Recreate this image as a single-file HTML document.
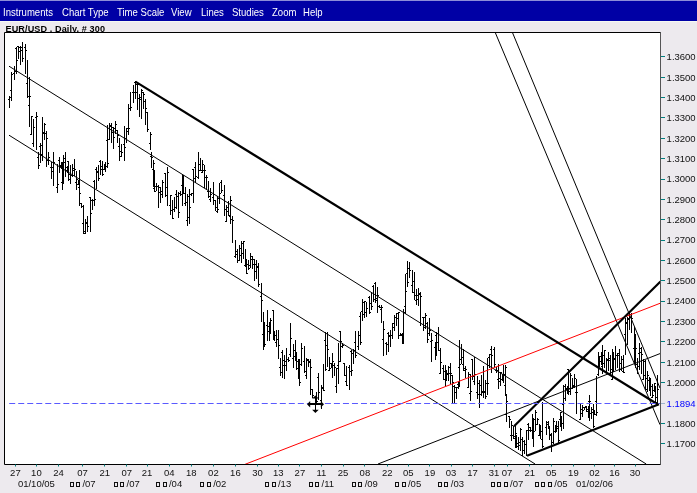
<!DOCTYPE html>
<html><head><meta charset="utf-8"><style>
html,body{margin:0;padding:0;}
body{width:697px;height:493px;overflow:hidden;background:#edeaee;position:relative;font-family:"Liberation Sans",sans-serif;}
#menu{position:absolute;left:0;top:0;width:697px;height:21px;background:#0000a5;border-top:1px solid #8d8dd8;box-sizing:border-box;}
#menu span{position:absolute;top:5.8px;color:#fff;font-size:10.8px;line-height:11px;white-space:nowrap;transform:scaleX(0.885);transform-origin:0 0;}
#title{position:absolute;left:5.5px;top:24.4px;font-size:9.1px;line-height:11px;color:#000;white-space:nowrap;font-weight:bold;letter-spacing:0.1px}
#hl{position:absolute;left:0;top:21px;width:697px;height:1px;background:#f5f9f3;}
#chart{position:absolute;left:4px;top:32px;width:656px;height:432px;background:#fff;}
svg{position:absolute;left:0;top:0;}
.yl{position:absolute;left:666.6px;font-size:9.5px;line-height:12px;white-space:nowrap;}
.xl{position:absolute;top:466.5px;width:30px;text-align:center;font-size:9.5px;line-height:12px;color:#111;}
.ml{position:absolute;top:478px;width:60px;text-align:center;font-size:9.5px;line-height:12px;color:#111;white-space:nowrap;}
.ml i{display:inline-block;width:2px;height:3px;border:1px solid #111;margin-right:2.4px;vertical-align:0px;}
</style></head><body>
<div id="menu">
<span style="left:3.3px">Instruments</span>
<span style="left:61.8px">Chart Type</span>
<span style="left:116.6px">Time Scale</span>
<span style="left:170.9px">View</span>
<span style="left:200.5px">Lines</span>
<span style="left:231.7px">Studies</span>
<span style="left:271.9px">Zoom</span>
<span style="left:303px">Help</span>
</div>
<div id="hl"></div>
<div id="title">EUR/USD , Daily, # 300</div>
<div id="chart"></div>
<svg width="697" height="493" viewBox="0 0 697 493">
<g>
<path d="M9.5 96V108M8 99.5H9M10 97.5H11M11.5 72V101M10 90.5H11M12 74.5H13M14.5 66V80M13 73.5H14M15 71.5H16M16.5 47V74M15 48.5H16M17 60.5H18M18.5 46V59M17 46.5H18M19 51.5H20M20.5 46V65M19 47.5H20M21 47.5H22M22.5 42V62M21 50.5H22M23 58.5H24M25.5 44V74M24 47.5H25M26 50.5H27M27.5 60V98M26 83.5H27M28 96.5H29M29.5 77V127M28 105.5H29M30 96.5H31M31.5 116V135M30 134.5H31M32 116.5H33M33.5 119V147M32 143.5H33M34 127.5H35M36.5 112V150M35 117.5H36M37 116.5H38M38.5 152V169M37 157.5H38M39 165.5H40M40.5 143V163M39 146.5H40M41 154.5H42M42.5 117V161M41 145.5H42M43 133.5H44M44.5 123V140M43 132.5H44M45 124.5H46M46.5 131V167M45 133.5H46M47 138.5H48M48.5 152V165M47 160.5H48M49 157.5H50M51.5 162V179M50 167.5H51M52 171.5H53M53.5 152V186M52 167.5H53M54 162.5H55M57.5 164V193M56 187.5H57M58 184.5H59M59.5 157V173M58 160.5H59M60 166.5H61M61.5 162V169M60 165.5H61M62 168.5H63M62.5 162V190M61 182.5H62M63 170.5H64M63.5 155V184M62 183.5H63M64 158.5H65M65.5 152V177M64 162.5H65M66 170.5H67M67.5 166V173M66 167.5H67M68 169.5H69M68.5 161V181M67 161.5H68M69 174.5H70M70.5 165V184M69 179.5H70M71 175.5H72M72.5 164V177M71 175.5H72M73 168.5H74M74.5 159V176M73 170.5H74M75 169.5H76M76.5 171V190M75 182.5H76M77 179.5H78M78.5 180V185M77 184.5H78M79 184.5H80M79.5 170V206M78 187.5H79M80 193.5H81M81.5 203V208M80 203.5H81M82 206.5H83M83.5 205V234M82 223.5H83M84 233.5H85M85.5 219V234M84 231.5H85M86 223.5H87M87.5 216V232M86 222.5H87M88 226.5H89M90.5 197V232M89 197.5H90M91 213.5H92M92.5 199V210M91 200.5H92M93 200.5H94M94.5 180V206M93 181.5H94M95 199.5H96M96.5 167V189M95 169.5H96M97 172.5H98M98.5 165V181M97 171.5H98M99 178.5H100M100.5 160V175M99 161.5H100M101 166.5H102M102.5 161V176M101 169.5H102M103 174.5H104M104.5 165V170M103 169.5H104M105 169.5H106M105.5 162V172M104 164.5H105M106 166.5H107M107.5 125V168M106 140.5H107M108 163.5H109M109.5 123V140M108 139.5H109M110 125.5H111M111.5 123V143M110 126.5H111M112 127.5H113M113.5 127V149M112 132.5H113M114 137.5H115M115.5 121V134M114 128.5H115M116 124.5H117M117.5 130V143M116 130.5H117M118 135.5H119M119.5 138V161M118 146.5H119M120 151.5H121M121.5 144V157M120 156.5H121M122 152.5H123M124.5 126V161M123 144.5H124M125 147.5H126M126.5 128V143M125 138.5H126M127 128.5H128M128.5 104V135M127 131.5H128M129 128.5H130M130.5 92V111M129 108.5H130M131 107.5H132M133.5 85V103M132 92.5H133M134 92.5H135M135.5 81V99M134 82.5H135M136 92.5H137M137.5 83V110M136 84.5H137M138 84.5H139M139.5 94V117M138 98.5H139M140 97.5H141M141.5 89V119M140 99.5H141M142 90.5H143M143.5 92V109M142 92.5H143M144 94.5H145M145.5 99V125M144 101.5H145M146 108.5H147M147.5 112V132M146 112.5H147M148 129.5H149M150.5 132V150M149 143.5H150M151 134.5H152M151.5 152V168M150 156.5H151M152 157.5H153M153.5 160V187M152 169.5H153M154 163.5H155M154.5 170V192M153 188.5H154M155 191.5H156M156.5 183V191M155 186.5H156M157 186.5H158M158.5 185V208M157 186.5H158M159 187.5H160M160.5 187V203M159 192.5H160M161 191.5H162M162.5 180V198M161 194.5H162M163 182.5H164M165.5 173V197M164 173.5H165M166 195.5H167M167.5 167V206M166 187.5H167M168 172.5H169M170.5 195V215M169 205.5H170M171 195.5H172M172.5 200V219M171 210.5H172M173 218.5H174M174.5 197V212M173 209.5H174M175 207.5H176M176.5 190V209M175 194.5H176M177 196.5H178M178.5 192V218M177 196.5H178M179 212.5H180M180.5 191V196M179 193.5H180M181 194.5H182M182.5 175V206M181 185.5H182M183 181.5H184M183.5 175V194M182 190.5H183M184 193.5H185M185.5 187V206M184 203.5H185M186 202.5H187M187.5 194V226M186 220.5H187M188 217.5H189M189.5 189V224M188 196.5H189M190 207.5H191M191.5 193V196M190 194.5H191M192 193.5H193M193.5 169V203M192 169.5H193M194 178.5H195M195.5 162V183M194 167.5H195M196 176.5H197M198.5 152V179M197 177.5H198M199 164.5H200M200.5 158V171M199 170.5H200M201 170.5H202M202.5 160V173M201 172.5H202M203 164.5H204M204.5 165V188M203 170.5H204M205 170.5H206M206.5 175V189M205 177.5H206M207 177.5H208M208.5 181V198M207 191.5H208M209 196.5H210M210.5 188V202M209 199.5H210M211 194.5H212M213.5 182V205M212 197.5H213M214 200.5H215M215.5 200V211M214 200.5H215M216 207.5H217M217.5 196V213M216 211.5H217M218 209.5H219M219.5 183V204M218 198.5H219M220 193.5H221M221.5 180V193M220 182.5H221M222 190.5H223M224.5 185V216M223 195.5H224M225 209.5H226M226.5 205V222M225 221.5H226M227 211.5H228M228.5 201V216M227 207.5H228M229 215.5H230M230.5 196V224M229 216.5H230M231 200.5H232M232.5 216V243M231 219.5H232M233 220.5H234M235.5 240V258M234 256.5H235M236 254.5H237M237.5 249V263M236 251.5H237M238 260.5H239M239.5 245V261M238 260.5H239M240 255.5H241M241.5 241V263M240 248.5H241M242 253.5H243M243.5 241V259M242 243.5H243M244 241.5H245M245.5 249V266M244 265.5H245M246 260.5H247M246.5 259V274M245 266.5H246M247 273.5H248M248.5 260V270M247 264.5H248M249 268.5H250M250.5 253V268M249 265.5H250M251 256.5H252M252.5 256V269M251 259.5H252M253 259.5H254M254.5 259V281M253 264.5H254M255 271.5H256M256.5 260V279M255 264.5H256M257 267.5H258M258.5 263V287M257 266.5H258M259 284.5H260M261.5 283V322M260 296.5H261M262 300.5H263M263.5 312V350M262 334.5H263M264 346.5H265M264.5 322V346M263 332.5H264M265 344.5H266M267.5 310V341M266 325.5H267M268 326.5H269M269.5 322V341M268 331.5H269M270 322.5H271M270.5 318V334M269 325.5H270M271 320.5H272M273.5 310V340M272 310.5H273M274 333.5H275M274.5 331V341M273 332.5H274M275 335.5H276M276.5 330V347M275 342.5H276M277 339.5H278M278.5 330V359M277 339.5H278M279 345.5H280M280.5 358V376M279 367.5H280M281 372.5H282M282.5 350V378M281 352.5H282M283 365.5H284M284.5 355V379M283 360.5H284M285 361.5H286M286.5 348V371M285 365.5H286M287 359.5H288M288.5 357V362M287 359.5H288M289 360.5H290M290.5 323V357M289 354.5H290M291 338.5H292M293.5 344V368M292 358.5H293M294 356.5H295M295.5 340V361M294 350.5H295M296 354.5H297M296.5 352V370M295 360.5H296M297 361.5H298M298.5 359V379M297 368.5H298M299 377.5H300M299.5 359V386M298 377.5H299M300 382.5H301M301.5 343V366M300 364.5H301M302 348.5H303M304.5 346V373M303 361.5H304M305 371.5H306M306.5 358V379M305 375.5H306M307 360.5H308M308.5 359V367M307 359.5H308M309 362.5H310M310.5 359V395M309 361.5H310M311 367.5H312M312.5 389V398M311 389.5H312M313 395.5H314M316.5 392V403M315 400.5H316M317 401.5H318M318.5 373V400M317 377.5H318M319 392.5H320M321.5 385V409M320 400.5H321M322 388.5H323M323.5 364V391M322 387.5H323M324 390.5H325M325.5 332V371M324 340.5H325M326 369.5H327M327.5 332V367M326 345.5H327M328 349.5H329M329.5 357V371M328 370.5H329M330 368.5H331M331.5 363V368M330 363.5H331M332 365.5H333M332.5 353V378M331 365.5H332M333 361.5H334M334.5 363V376M333 365.5H334M335 367.5H336M336.5 368V393M335 386.5H336M337 368.5H338M338.5 343V384M337 365.5H338M339 361.5H340M340.5 331V362M339 331.5H340M341 341.5H342M342.5 343V348M341 346.5H342M343 345.5H344M344.5 363V376M343 363.5H344M345 375.5H346M346.5 366V386M345 381.5H346M347 385.5H348M349.5 365V390M348 367.5H349M350 371.5H351M351.5 350V376M350 351.5H351M352 370.5H353M353.5 349V364M352 353.5H353M354 350.5H355M355.5 331V358M354 342.5H355M356 355.5H357M358.5 331V350M357 346.5H358M359 335.5H360M360.5 312V345M359 316.5H360M361 342.5H362M362.5 299V321M361 311.5H362M363 314.5H364M364.5 301V318M363 302.5H364M365 301.5H366M366.5 302V317M365 312.5H366M367 308.5H368M369.5 296V314M368 297.5H369M370 312.5H371M371.5 293V310M370 303.5H371M372 306.5H373M373.5 285V302M372 286.5H373M374 299.5H375M375.5 282V303M374 283.5H375M376 300.5H377M377.5 287V313M376 298.5H377M378 295.5H379M379.5 305V308M378 306.5H379M380 307.5H381M381.5 305V323M380 309.5H381M382 307.5H383M383.5 321V356M382 339.5H383M384 329.5H385M386.5 342V355M385 343.5H386M387 344.5H388M388.5 332V352M387 333.5H388M389 336.5H390M390.5 330V347M389 335.5H390M391 335.5H392M392.5 323V339M391 335.5H392M393 327.5H394M394.5 315V331M393 323.5H394M395 317.5H396M396.5 313V326M395 317.5H396M397 313.5H398M398.5 312V339M397 318.5H398M399 312.5H400M400.5 333V336M399 335.5H400M401 334.5H402M402.5 333V344M401 335.5H402M403 338.5H404M403.5 309V344M402 341.5H403M404 312.5H405M405.5 274V314M404 306.5H405M406 291.5H407M407.5 261V287M406 273.5H407M408 282.5H409M409.5 262V278M408 268.5H409M410 270.5H411M412.5 270V293M411 285.5H412M413 292.5H414M414.5 272V300M413 281.5H414M415 295.5H416M416.5 289V305M415 300.5H416M417 299.5H418M418.5 288V306M417 295.5H418M419 294.5H420M420.5 292V326M419 293.5H420M421 296.5H422M423.5 317V331M422 317.5H423M424 327.5H425M425.5 313V329M424 317.5H425M426 315.5H427M427.5 322V343M426 323.5H427M428 339.5H429M429.5 318V336M428 333.5H429M430 330.5H431M431.5 333V362M430 341.5H431M432 340.5H433M435.5 342V360M434 347.5H435M436 350.5H437M436.5 332V356M435 335.5H436M437 342.5H438M438.5 327V351M437 333.5H438M439 350.5H440M440.5 348V374M439 373.5H440M441 362.5H442M443.5 365V380M442 368.5H443M444 379.5H445M445.5 365V386M444 371.5H445M446 372.5H447M446.5 370V381M445 370.5H446M447 374.5H448M448.5 366V381M447 373.5H448M449 373.5H450M450.5 363V384M449 367.5H450M451 373.5H452M452.5 375V403M451 375.5H452M453 382.5H454M454.5 385V403M453 386.5H454M455 392.5H456M456.5 387V399M455 387.5H456M457 387.5H458M458.5 382V389M457 384.5H458M459 383.5H460M459.5 340V387M458 367.5H459M460 364.5H461M461.5 344V364M460 359.5H461M462 357.5H463M463.5 349V371M462 364.5H463M464 368.5H465M465.5 366V378M464 370.5H465M466 369.5H467M468.5 372V388M467 387.5H468M469 374.5H470M470.5 374V401M469 393.5H470M471 391.5H472M472.5 359V380M471 359.5H472M473 376.5H474M474.5 357V385M473 381.5H474M475 374.5H476M477.5 376V399M476 392.5H477M478 394.5H479M479.5 380V408M478 383.5H479M480 394.5H481M481.5 375V396M480 385.5H481M482 392.5H483M483.5 366V398M482 391.5H483M484 392.5H485M485.5 380V399M484 391.5H485M486 396.5H487M487.5 358V395M486 383.5H487M488 383.5H489M489.5 354V368M488 357.5H489M490 354.5H491M491.5 346V373M490 349.5H491M492 355.5H493M494.5 347V368M493 349.5H494M495 364.5H496M496.5 367V373M495 370.5H496M497 370.5H498M498.5 364V389M497 379.5H498M499 381.5H500M500.5 372V386M499 378.5H500M501 372.5H502M502.5 374V381M501 379.5H502M503 379.5H504M503.5 365V383M502 374.5H503M504 374.5H505M505.5 365V396M504 385.5H505M506 367.5H507M506.5 394V422M505 414.5H506M507 401.5H508M509.5 416V428M508 416.5H509M510 419.5H511M511.5 421V441M510 435.5H511M512 425.5H513M513.5 426V439M512 435.5H513M514 438.5H515M515.5 425V448M514 436.5H515M516 433.5H517M516.5 435V448M515 441.5H516M517 443.5H518M518.5 437V450M517 446.5H518M519 445.5H520M520.5 428V451M519 442.5H520M521 429.5H522M522.5 437V456M521 439.5H522M523 441.5H524M524.5 440V454M523 450.5H524M525 444.5H526M526.5 430V456M525 444.5H526M527 430.5H528M528.5 423V440M527 424.5H528M529 427.5H530M530.5 427V432M529 430.5H530M531 430.5H532M532.5 414V439M531 430.5H532M533 421.5H534M533.5 418V447M532 432.5H533M534 431.5H535M535.5 410V431M534 419.5H535M536 412.5H537M537.5 418V425M536 424.5H537M538 419.5H539M539.5 424V436M538 435.5H539M540 435.5H541M540.5 425V439M539 425.5H540M541 431.5H542M542.5 402V448M541 439.5H542M543 446.5H544M546.5 421V435M545 427.5H546M547 424.5H548M548.5 421V428M547 422.5H548M549 427.5H550M549.5 426V440M548 428.5H549M550 434.5H551M551.5 433V452M550 435.5H551M552 442.5H553M553.5 418V444M552 442.5H553M554 421.5H555M555.5 425V433M554 431.5H555M556 429.5H557M556.5 421V432M555 430.5H556M557 428.5H558M558.5 421V443M557 426.5H558M559 440.5H560M560.5 412V427M559 419.5H560M561 412.5H562M561.5 416V431M560 416.5H561M562 423.5H563M563.5 385V429M562 404.5H563M564 398.5H565M565.5 384V401M564 386.5H565M566 389.5H567M567.5 386V394M566 388.5H567M568 392.5H569M568.5 369V395M567 369.5H568M569 388.5H570M570.5 373V395M569 391.5H570M571 375.5H572M572.5 378V389M571 388.5H572M573 385.5H574M574.5 374V388M573 386.5H574M575 378.5H576M576.5 379V414M575 392.5H576M577 392.5H578M580.5 403V420M579 419.5H580M581 413.5H582M582.5 405V417M581 409.5H582M583 410.5H584M584.5 407V410M583 407.5H584M585 407.5H586M586.5 406V412M585 406.5H586M587 411.5H588M588.5 406V418M587 409.5H588M589 417.5H590M589.5 395V421M588 401.5H589M590 401.5H591M591.5 407V419M590 413.5H591M592 409.5H593M593.5 404V428M592 412.5H593M594 426.5H595M594.5 410V415M593 414.5H594M595 414.5H596M596.5 376V416M595 401.5H596M597 412.5H598M598.5 352V376M597 374.5H598M599 365.5H600M599.5 356V367M598 363.5H599M600 356.5H601M601.5 352V365M600 361.5H601M602 357.5H603M602.5 345V374M601 366.5H602M603 363.5H604M604.5 350V368M603 355.5H604M605 350.5H606M606.5 358V373M605 371.5H606M607 359.5H608M608.5 352V371M607 360.5H608M609 358.5H610M610.5 355V374M609 360.5H610M611 369.5H612M612.5 349V380M611 379.5H612M613 357.5H614M613.5 352V372M612 365.5H613M614 358.5H615M615.5 346V370M614 359.5H615M616 355.5H617M617.5 353V368M616 355.5H617M618 355.5H619M619.5 349V372M618 353.5H619M620 369.5H621M621.5 356V371M620 363.5H621M622 359.5H623M623.5 355V373M622 371.5H623M624 372.5H625M625.5 318V355M624 334.5H625M626 323.5H627M627.5 317V345M626 322.5H627M628 319.5H629M629.5 313V330M628 318.5H629M630 314.5H631M631.5 313V333M630 317.5H631M632 318.5H633M634.5 327V364M633 348.5H634M635 359.5H636M635.5 334V368M634 359.5H635M636 348.5H637M637.5 358V374M636 364.5H637M638 366.5H639M639.5 343V370M638 353.5H639M640 352.5H641M641.5 347V374M640 348.5H641M642 354.5H643M643.5 359V380M642 379.5H643M644 361.5H645M645.5 360V390M644 375.5H645M646 378.5H647M647.5 371V392M646 389.5H647M648 375.5H649M649.5 377V391M648 380.5H649M650 380.5H651M650.5 378V396M649 385.5H650M651 386.5H652M652.5 384V398M651 397.5H652M653 395.5H654M654.5 383V392M653 390.5H654M655 383.5H656M655.5 386V402M654 386.5H655M656 397.5H657M657.5 375V406M656 402.5H657M658 389.5H659" stroke="#000" stroke-width="1" fill="none"/>
<line x1="9" y1="66.2" x2="646.2" y2="464" stroke="#000" stroke-width="1" />
<line x1="9" y1="135.2" x2="535.1" y2="464" stroke="#000" stroke-width="1" />
<line x1="495.4" y1="32.9" x2="660" y2="424.7" stroke="#000" stroke-width="1" />
<line x1="512.6" y1="32.9" x2="660" y2="388.1" stroke="#000" stroke-width="1" />
<line x1="378" y1="464" x2="660" y2="353.6" stroke="#000" stroke-width="1" />
<line x1="245.1" y1="464.3" x2="660" y2="303.3" stroke="#ff0000" stroke-width="1" />
<line x1="135.4" y1="81.6" x2="658" y2="404.5" stroke="#000" stroke-width="2.2" />
<line x1="514" y1="426.2" x2="660.5" y2="281.5" stroke="#000" stroke-width="2.2" />
<line x1="527" y1="455.8" x2="659" y2="404.3" stroke="#000" stroke-width="2.2" />
<line x1="9.2" y1="403.5" x2="660" y2="403.5" stroke="#5a5aff" stroke-width="1" stroke-dasharray="6 3.02"/>
</g>
<path d="M4.5 32.5H660.5V464.5H4.5Z" fill="none" stroke="#000" stroke-width="1"/>
<path d="M660.5 32.5V464.5" stroke="#555" stroke-width="1"/>
<path d="M661 56.5H665M661 77.5H665M661 97.5H665M661 117.5H665M661 138.5H665M661 158.5H665M661 179.5H665M661 199.5H665M661 219.5H665M661 240.5H665M661 260.5H665M661 280.5H665M661 301.5H665M661 321.5H665M661 341.5H665M661 362.5H665M661 382.5H665M661 423.5H665M661 443.5H665" stroke="#008080" stroke-width="1"/>
<path d="M661 403.5H665" stroke="#9fb4cc" stroke-width="1"/>
<path d="M15.5 464.5V466.5M36.5 464.5V466.5M58.5 464.5V466.5M82.5 464.5V466.5M104.5 464.5V466.5M126.5 464.5V466.5M147.5 464.5V466.5M169.5 464.5V466.5M191.5 464.5V466.5M213.5 464.5V466.5M235.5 464.5V466.5M257.5 464.5V466.5M278.5 464.5V466.5M299.5 464.5V466.5M321.5 464.5V466.5M343.5 464.5V466.5M364.5 464.5V466.5M387.5 464.5V466.5M408.5 464.5V466.5M429.5 464.5V466.5M451.5 464.5V466.5M472.5 464.5V466.5M494.5 464.5V466.5M507.5 464.5V466.5M529.5 464.5V466.5M551.5 464.5V466.5M573.5 464.5V466.5M594.5 464.5V466.5M614.5 464.5V466.5M635.5 464.5V466.5" stroke="#008080" stroke-width="1"/>
<g fill="#000" shape-rendering="crispEdges">
<rect x="309.5" y="403.3" width="12" height="1.9"/>
<rect x="314.5" y="398" width="1.9" height="12.3"/>
</g>
<g fill="#000">
<path d="M307 404.2 L310.2 400.9 L310.2 407.5 Z"/>
<path d="M324 404.2 L320.8 400.9 L320.8 407.5 Z"/>
<path d="M315.4 395.4 L312.1 398.6 L318.7 398.6 Z"/>
<path d="M315.4 413 L312.1 409.8 L318.7 409.8 Z"/>
</g>
</svg>
<div class="yl" style="top:51.1px;color:#111">1.3600</div>
<div class="yl" style="top:71.5px;color:#111">1.3500</div>
<div class="yl" style="top:91.8px;color:#111">1.3400</div>
<div class="yl" style="top:112.2px;color:#111">1.3300</div>
<div class="yl" style="top:132.5px;color:#111">1.3200</div>
<div class="yl" style="top:152.9px;color:#111">1.3100</div>
<div class="yl" style="top:173.3px;color:#111">1.3000</div>
<div class="yl" style="top:193.6px;color:#111">1.2900</div>
<div class="yl" style="top:214.0px;color:#111">1.2800</div>
<div class="yl" style="top:234.3px;color:#111">1.2700</div>
<div class="yl" style="top:254.7px;color:#111">1.2600</div>
<div class="yl" style="top:275.1px;color:#111">1.2500</div>
<div class="yl" style="top:295.4px;color:#111">1.2400</div>
<div class="yl" style="top:315.8px;color:#111">1.2300</div>
<div class="yl" style="top:336.1px;color:#111">1.2200</div>
<div class="yl" style="top:356.5px;color:#111">1.2100</div>
<div class="yl" style="top:376.9px;color:#111">1.2000</div>
<div class="yl" style="top:417.6px;color:#111">1.1800</div>
<div class="yl" style="top:437.9px;color:#111">1.1700</div>
<div class="yl" style="top:398.4px;color:#0000ff">1.1894</div>
<div class="xl" style="left:0.4px">27</div>
<div class="xl" style="left:21.4px">10</div>
<div class="xl" style="left:43.6px">24</div>
<div class="xl" style="left:67.6px">07</div>
<div class="xl" style="left:89.7px">21</div>
<div class="xl" style="left:111.8px">07</div>
<div class="xl" style="left:132.1px">21</div>
<div class="xl" style="left:154.2px">04</div>
<div class="xl" style="left:176.3px">18</div>
<div class="xl" style="left:198.4px">02</div>
<div class="xl" style="left:220.4px">16</div>
<div class="xl" style="left:242.5px">30</div>
<div class="xl" style="left:263.2px">13</div>
<div class="xl" style="left:284.9px">27</div>
<div class="xl" style="left:306.4px">11</div>
<div class="xl" style="left:328.0px">25</div>
<div class="xl" style="left:349.9px">08</div>
<div class="xl" style="left:372.2px">22</div>
<div class="xl" style="left:393.2px">05</div>
<div class="xl" style="left:414.9px">19</div>
<div class="xl" style="left:436.0px">03</div>
<div class="xl" style="left:457.5px">17</div>
<div class="xl" style="left:479.0px">31</div>
<div class="xl" style="left:492.1px">07</div>
<div class="xl" style="left:514.8px">21</div>
<div class="xl" style="left:536.3px">05</div>
<div class="xl" style="left:558.4px">19</div>
<div class="xl" style="left:579.5px">02</div>
<div class="xl" style="left:599.6px">16</div>
<div class="xl" style="left:620.0px">30</div>
<div class="ml" style="left:6.4px">01/10/05</div>
<div class="ml" style="left:52.6px"><i></i><i></i>/07</div>
<div class="ml" style="left:96.8px"><i></i><i></i>/07</div>
<div class="ml" style="left:139.2px"><i></i><i></i>/04</div>
<div class="ml" style="left:183.4px"><i></i><i></i>/02</div>
<div class="ml" style="left:248.2px"><i></i><i></i>/13</div>
<div class="ml" style="left:291.4px"><i></i><i></i>/11</div>
<div class="ml" style="left:334.9px"><i></i><i></i>/09</div>
<div class="ml" style="left:378.2px"><i></i><i></i>/05</div>
<div class="ml" style="left:421.0px"><i></i><i></i>/03</div>
<div class="ml" style="left:477.1px"><i></i><i></i><i></i>/07</div>
<div class="ml" style="left:521.3px"><i></i><i></i><i></i>/05</div>
<div class="ml" style="left:564.5px">01/02/06</div>
</body></html>
